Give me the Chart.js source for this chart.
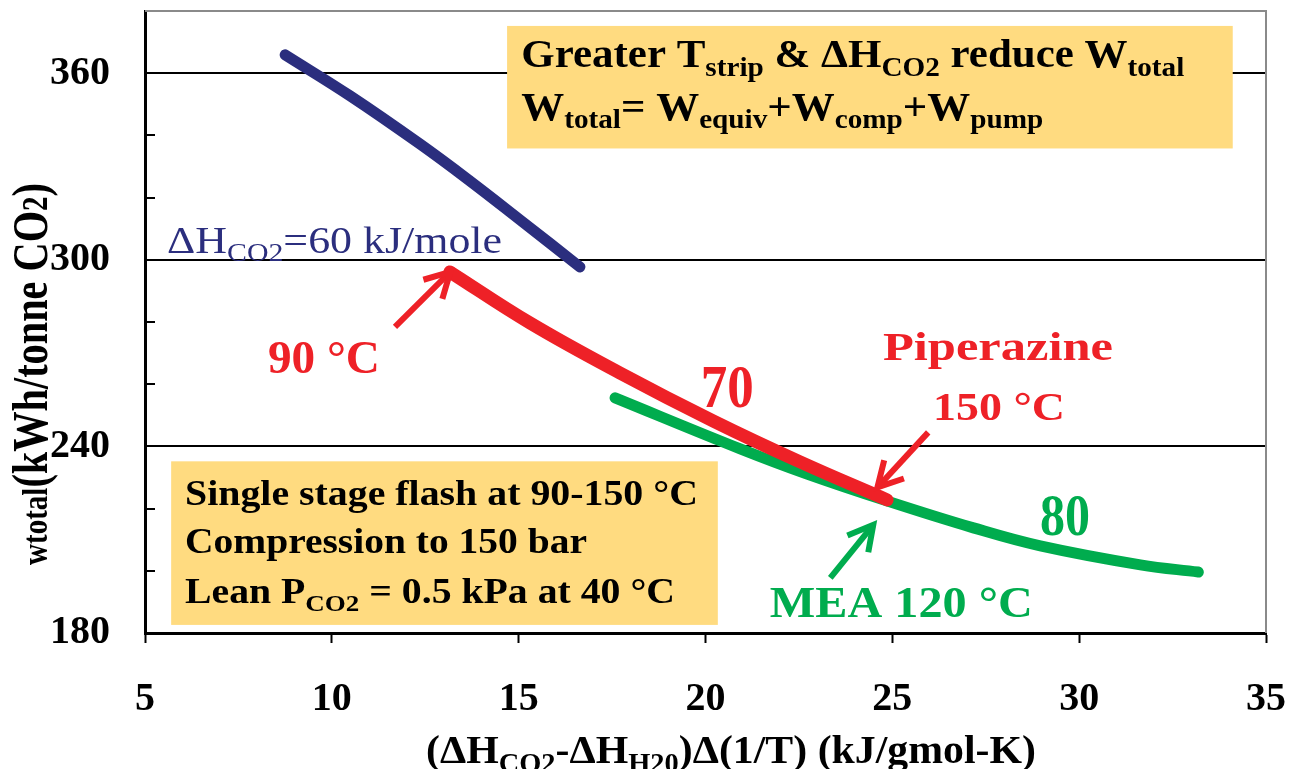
<!DOCTYPE html>
<html><head><meta charset="utf-8">
<script src="https://cdn.jsdelivr.net/npm/chart.js@4.4.1/dist/chart.umd.min.js"></script>
<style>html,body{margin:0;padding:0;background:#fff}#wrap{width:1294px;height:769px}</style>
</head><body><div id="wrap"><canvas id="c" width="1294" height="769"></canvas></div>
<script>
// ---- data ----
const xTicks = [5, 10, 15, 20, 25, 30, 35];
const yTickLabels = [180, 240, 300, 360];
const dh60X = [8.75, 10.49, 12.36, 13.70, 15.04, 16.64];
const dh60Y = [365.9, 352.7, 337.2, 325.3, 312.8, 297.7];
const pzX = [13.16, 15.30, 17.71, 20.20, 22.53, 24.86];
const pzY = [296.1, 279.7, 263.6, 248.2, 235.0, 222.8];
const meaX = [17.58, 20.93, 22.72, 24.87, 27.17, 28.96, 31.64, 33.19];
const meaY = [255.6, 239.2, 231.1, 222.4, 213.8, 208.0, 201.9, 199.6];

// ---- styles ----
const NAVY = '#2B2E7E', RED = '#EE2127', GREEN = '#00AC4E', GOLD = '#FFDB80';
const F = '"Liberation Serif", "Times New Roman", serif';

// annotation layout (data coordinates)
const boxes = [
  {x0: 14.69, x1: 34.11, y0: 375.2, y1: 335.8},
  {x0: 5.70, x1: 20.33, y0: 235.2, y1: 182.6}
];
const arrows = [
  {x0: 11.69, y0: 278.4, x1: 13.17, y1: 296.1, c: RED},
  {x0: 25.96, y0: 244.5, x1: 24.60, y1: 226.8, c: RED},
  {x0: 23.34, y0: 197.7, x1: 24.49, y1: 214.8, c: GREEN}
];
const notes = [
  {x: 5.59, y: 302.2, size: 38, weight: 'normal', c: NAVY, w: 335, segs: [['ΔH','n'],['CO2','s'],['=60 kJ/mole','n']]},
  {x: 15.07, y: 362.0, size: 39, weight: 'bold', c: '#000', w: 663, segs: [['Greater T','n'],['strip','s'],[' & ΔH','n'],['CO2','s'],[' reduce W','n'],['total','s']]},
  {x: 15.07, y: 345.0, size: 39, weight: 'bold', c: '#000', w: 522, segs: [['W','n'],['total','s'],['= W','n'],['equiv','s'],['+W','n'],['comp','s'],['+W','n'],['pump','s']]},
  {x: 6.07, y: 221.2, size: 35, weight: 'bold', c: '#000', w: 513, segs: [['Single stage flash at 90-150 °C','n']]},
  {x: 6.07, y: 205.7, size: 35, weight: 'bold', c: '#000', w: 402, segs: [['Compression to 150 bar','n']]},
  {x: 6.07, y: 189.6, size: 35, weight: 'bold', c: '#000', w: 490, segs: [['Lean P','n'],['CO2','s'],[' = 0.5 kPa at 40 °C','n']]},
  {x: 8.29, y: 263.6, size: 47, weight: 'bold', c: RED, w: 112, segs: [['90 °C','n']]},
  {x: 19.87, y: 252.7, size: 62, weight: 'bold', c: RED, w: 53, segs: [['70','n']]},
  {x: 24.75, y: 267.8, size: 40, weight: 'bold', c: RED, w: 230, segs: [['Piperazine','n']]},
  {x: 26.09, y: 248.5, size: 41, weight: 'bold', c: RED, w: 132, segs: [['150 °C','n']]},
  {x: 28.95, y: 211.5, size: 59, weight: 'bold', c: GREEN, w: 50, segs: [['80','n']]},
  {x: 21.72, y: 185.1, size: 44, weight: 'bold', c: GREEN, w: 263, segs: [['MEA 120 °C','n']]}
];
const xTitle = {segs: [['(ΔH','n'],['CO2','s'],['-ΔH','n'],['H20','s'],[')Δ(1/T) (kJ/gmol-K)','n']], size: 41, weight: 'bold', w: 610, cx: 731, by: 763};
const yTitle = {segs: [['w','m'],['total','m'],['(kWh/tonne CO','n'],['2','m'],[')','n']], size: 50, weight: 'bold', w: 382, cy: 374, bx: 47};

function segSize(s, size){ return s[1]==='s' ? size*0.68 : (s[1]==='m' ? size*0.72 : size); }
function richWidth(ctx, segs, size, weight){
  let w = 0;
  for (const s of segs){ ctx.font = `${weight} ${segSize(s,size)}px ${F}`; w += ctx.measureText(s[0]).width; }
  return w;
}
function drawRich(ctx, segs, size, weight, color){
  let x = 0; ctx.fillStyle = color; ctx.textBaseline = 'alphabetic'; ctx.textAlign = 'left';
  for (const s of segs){
    const sz = segSize(s,size);
    ctx.font = `${weight} ${sz}px ${F}`;
    ctx.fillText(s[0], x, s[1]==='s' ? size*0.22 : 0);
    x += ctx.measureText(s[0]).width;
  }
}
function drawArrow(ctx, x0, y0, x1, y1, color){
  ctx.save();
  ctx.strokeStyle = color; ctx.lineWidth = 6; ctx.lineCap = 'butt'; ctx.lineJoin = 'miter';
  ctx.beginPath(); ctx.moveTo(x0, y0); ctx.lineTo(x1, y1); ctx.stroke();
  const ang = Math.atan2(y1 - y0, x1 - x0), L = 28, a = 0.5;
  ctx.beginPath();
  ctx.moveTo(x1 - L*Math.cos(ang - a), y1 - L*Math.sin(ang - a));
  ctx.lineTo(x1, y1);
  ctx.lineTo(x1 - L*Math.cos(ang + a), y1 - L*Math.sin(ang + a));
  ctx.stroke();
  ctx.restore();
}

const annot = {
  id: 'annot',
  beforeDatasetsDraw(chart){
    const {ctx, scales:{x, y}} = chart;
    ctx.save();
    ctx.fillStyle = GOLD;
    for (const b of boxes){
      const px0 = x.getPixelForValue(b.x0), px1 = x.getPixelForValue(b.x1);
      const py0 = y.getPixelForValue(b.y0), py1 = y.getPixelForValue(b.y1);
      ctx.fillRect(px0, py0, px1 - px0, py1 - py0);
    }
    ctx.restore();
  },
  afterDraw(chart){
    const {ctx, chartArea: ca, scales:{x, y}} = chart;
    ctx.save();
    ctx.strokeStyle = '#8a8a8a'; ctx.lineWidth = 2;
    ctx.beginPath(); ctx.moveTo(ca.left, ca.top); ctx.lineTo(ca.right, ca.top); ctx.lineTo(ca.right, ca.bottom); ctx.stroke();
    ctx.strokeStyle = '#000'; ctx.lineWidth = 2;
    for (let v = y.min + 20; v < y.max; v += 20){
      if (yTickLabels.includes(v)) continue;
      const py = Math.round(y.getPixelForValue(v));
      ctx.beginPath(); ctx.moveTo(ca.left, py); ctx.lineTo(ca.left + 10, py); ctx.stroke();
    }
    for (const a of arrows){
      drawArrow(ctx, x.getPixelForValue(a.x0), y.getPixelForValue(a.y0), x.getPixelForValue(a.x1), y.getPixelForValue(a.y1), a.c);
    }
    for (const n of notes){
      const nat = richWidth(ctx, n.segs, n.size, n.weight);
      ctx.save();
      ctx.translate(x.getPixelForValue(n.x), y.getPixelForValue(n.y));
      ctx.scale(n.w / nat, 1);
      drawRich(ctx, n.segs, n.size, n.weight, n.c);
      ctx.restore();
    }
    {
      const t = xTitle, nat = richWidth(ctx, t.segs, t.size, t.weight);
      ctx.save(); ctx.translate(t.cx - t.w/2, t.by); ctx.scale(t.w/nat, 1);
      drawRich(ctx, t.segs, t.size, t.weight, '#000'); ctx.restore();
    }
    {
      const t = yTitle, nat = richWidth(ctx, t.segs, t.size, t.weight);
      ctx.save(); ctx.translate(t.bx, t.cy); ctx.rotate(-Math.PI/2);
      ctx.translate(-t.w/2, 0); ctx.scale(t.w/nat, 1);
      drawRich(ctx, t.segs, t.size, t.weight, '#000'); ctx.restore();
    }
    ctx.restore();
  }
};

const pts = (xs, ys) => xs.map((v, i) => ({x: v, y: ys[i]}));
new Chart(document.getElementById('c').getContext('2d'), {
  type: 'scatter',
  data: {
    datasets: [
      {label: 'ΔHCO2=60 kJ/mole', data: pts(dh60X, dh60Y), borderColor: NAVY, borderWidth: 11},
      {label: 'Piperazine', data: pts(pzX, pzY), borderColor: RED, borderWidth: 13},
      {label: 'MEA', data: pts(meaX, meaY), borderColor: GREEN, borderWidth: 11}
    ]
  },
  options: {
    responsive: false, animation: false, devicePixelRatio: 1,
    layout: {padding: {left: 0, right: 28, top: 11, bottom: 0}},
    plugins: {legend: {display: false}, tooltip: {enabled: false}},
    datasets: {scatter: {showLine: true, pointRadius: 0, borderCapStyle: 'round', borderJoinStyle: 'round', tension: 0.4}},
    scales: {
      x: {
        type: 'linear', min: xTicks[0], max: xTicks[xTicks.length - 1],
        afterBuildTicks(s){ s.ticks = xTicks.map(v => ({value: v})); },
        ticks: {font: {family: F, size: 40, weight: 'bold'}, color: '#000', padding: 33, maxRotation: 0, callback: v => String(v)},
        grid: {drawOnChartArea: false, tickLength: 10, tickColor: '#000', tickWidth: 2},
        border: {color: '#000', width: 3},
        afterFit(s){ s.height = 136; s.paddingLeft = 0; s.paddingRight = 0; s.paddingTop = 0; s.paddingBottom = 0; }
      },
      y: {
        min: 180, max: 380,
        ticks: {stepSize: 20, font: {family: F, size: 40, weight: 'bold'}, color: '#000', padding: 35,
          callback: v => yTickLabels.includes(v) ? String(v) : null},
        grid: {color: '#000', lineWidth: 2, drawTicks: false},
        border: {color: '#000', width: 3},
        afterFit(s){ s.width = 145; s.paddingLeft = 0; s.paddingRight = 0; s.paddingTop = 0; s.paddingBottom = 0; }
      }
    }
  },
  plugins: [annot]
});
</script>
</body></html>
